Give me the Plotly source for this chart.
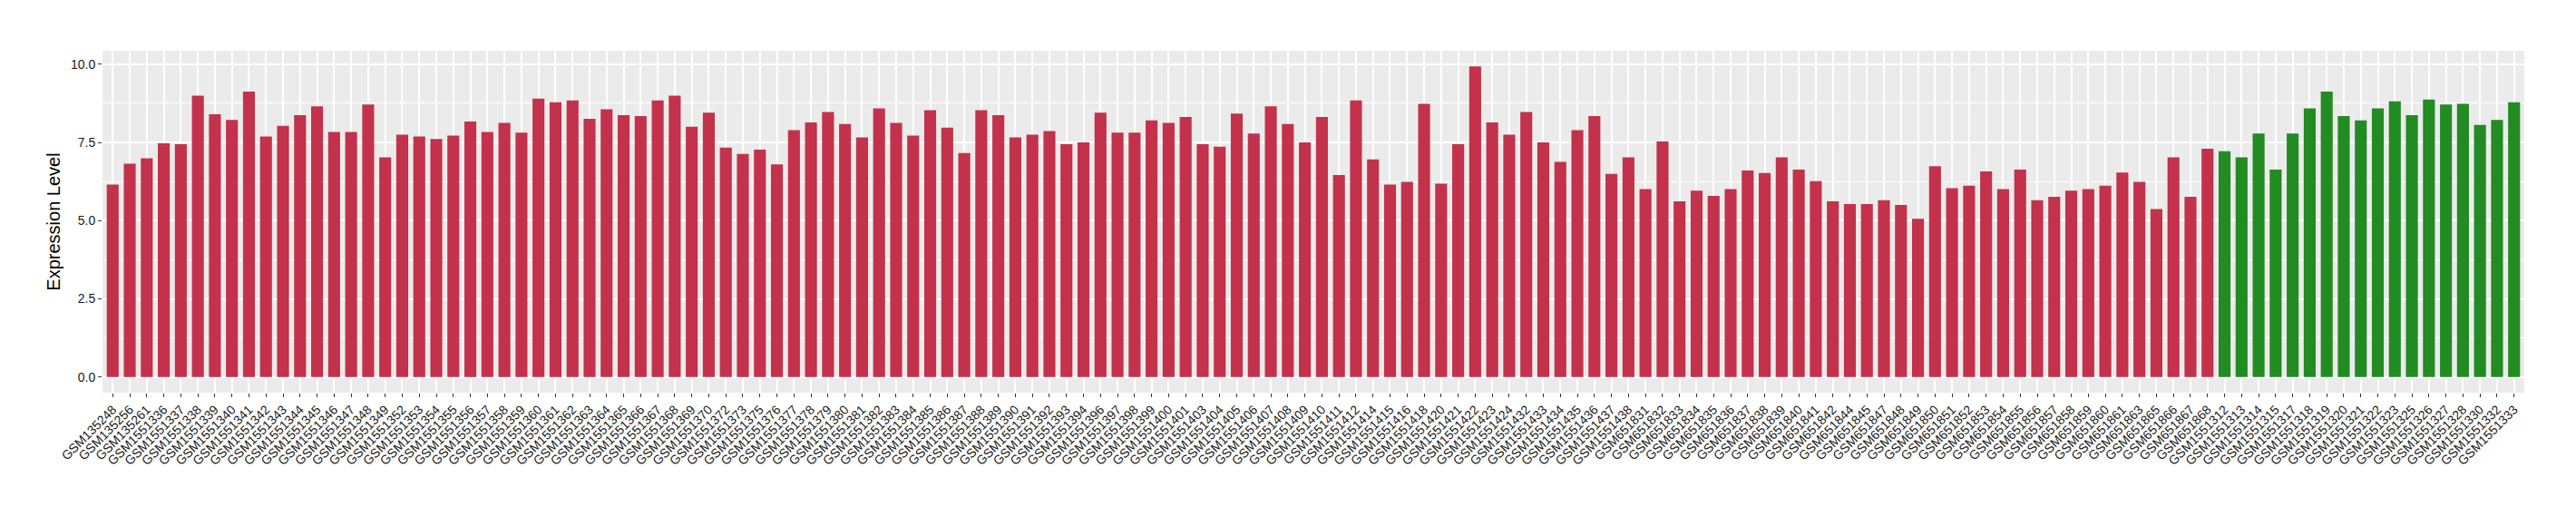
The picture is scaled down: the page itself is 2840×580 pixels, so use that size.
import plotly.graph_objects as go

red_samples = [
    "GSM135248", "GSM135256", "GSM135261",
    "GSM1551336", "GSM1551337", "GSM1551338", "GSM1551339", "GSM1551340", "GSM1551341", "GSM1551342", "GSM1551343",
    "GSM1551344", "GSM1551345", "GSM1551346", "GSM1551347", "GSM1551348", "GSM1551349",
    "GSM1551352", "GSM1551353", "GSM1551354", "GSM1551355", "GSM1551356", "GSM1551357", "GSM1551358", "GSM1551359",
    "GSM1551360", "GSM1551361", "GSM1551362", "GSM1551363", "GSM1551364", "GSM1551365", "GSM1551366", "GSM1551367",
    "GSM1551368", "GSM1551369", "GSM1551370",
    "GSM1551372", "GSM1551373",
    "GSM1551375", "GSM1551376", "GSM1551377", "GSM1551378", "GSM1551379", "GSM1551380", "GSM1551381", "GSM1551382",
    "GSM1551383", "GSM1551384", "GSM1551385", "GSM1551386", "GSM1551387", "GSM1551388", "GSM1551389", "GSM1551390",
    "GSM1551391", "GSM1551392", "GSM1551393", "GSM1551394",
    "GSM1551396", "GSM1551397", "GSM1551398", "GSM1551399", "GSM1551400", "GSM1551401",
    "GSM1551403", "GSM1551404", "GSM1551405", "GSM1551406", "GSM1551407", "GSM1551408", "GSM1551409", "GSM1551410",
    "GSM1551411", "GSM1551412",
    "GSM1551414", "GSM1551415", "GSM1551416", "GSM1551418",
    "GSM1551420", "GSM1551421", "GSM1551422", "GSM1551423", "GSM1551424",
    "GSM1551432", "GSM1551433", "GSM1551434", "GSM1551435", "GSM1551436", "GSM1551437", "GSM1551438",
    "GSM651831", "GSM651832", "GSM651833", "GSM651834", "GSM651835", "GSM651836", "GSM651837", "GSM651838",
    "GSM651839", "GSM651840", "GSM651841", "GSM651842",
    "GSM651844", "GSM651845",
    "GSM651847", "GSM651848", "GSM651849", "GSM651850", "GSM651851", "GSM651852", "GSM651853", "GSM651854",
    "GSM651855", "GSM651856", "GSM651857", "GSM651858", "GSM651859", "GSM651860", "GSM651861",
    "GSM651863",
    "GSM651865", "GSM651866", "GSM651867", "GSM651868",
]
red_values = [
    6.15, 6.82, 6.99,
    7.47, 7.44, 8.99, 8.40, 8.22, 9.12, 7.69, 8.03,
    8.37, 8.65, 7.83, 7.83, 8.71, 7.02,
    7.75, 7.69, 7.61, 7.72, 8.17, 7.83, 8.12, 7.81,
    8.90, 8.78, 8.84, 8.25, 8.56, 8.37, 8.34, 8.84,
    8.99, 8.00, 8.45,
    7.33, 7.13,
    7.27, 6.80, 7.89, 8.14, 8.47, 8.09, 7.66, 8.59,
    8.12, 7.72, 8.53, 7.97, 7.16, 8.53, 8.37, 7.66,
    7.75, 7.86, 7.44, 7.50,
    8.45, 7.81, 7.81, 8.20, 8.12, 8.31,
    7.44, 7.36, 8.42, 7.78, 8.65, 8.09, 7.50, 8.31,
    6.46, 8.84,
    6.96, 6.15, 6.24, 8.73,
    6.18, 7.44, 9.93, 8.14, 7.75,
    8.47, 7.50, 6.88, 7.89, 8.34, 6.49, 7.02,
    6.01, 7.53, 5.62, 5.96, 5.79, 6.01, 6.60, 6.52,
    7.02, 6.63, 6.26, 5.62,
    5.53, 5.53,
    5.65, 5.50, 5.06, 6.74, 6.04, 6.12, 6.57, 6.01,
    6.63, 5.65, 5.76, 5.96, 6.01, 6.12, 6.54,
    6.24,
    5.37, 7.02, 5.76, 7.30,
]
green_samples = [
    "GSM1551312", "GSM1551313", "GSM1551314", "GSM1551315",
    "GSM1551317", "GSM1551318", "GSM1551319", "GSM1551320", "GSM1551321", "GSM1551322", "GSM1551323",
    "GSM1551325", "GSM1551326", "GSM1551327", "GSM1551328",
    "GSM1551330", "GSM1551332", "GSM1551333",
]
green_values = [
    7.22, 7.02, 7.78, 6.63,
    7.78, 8.59, 9.12, 8.34, 8.20, 8.59, 8.81,
    8.37, 8.87, 8.71, 8.73,
    8.06, 8.22, 8.78,
]
y_ticks = [0, 2.5, 5, 7.5, 10]
y_tick_labels = ["0.0", "2.5", "5.0", "7.5", "10.0"]
y_title = "Expression Level"

all_samples = red_samples + green_samples
ymax = max(red_values + green_values)
pad = ymax * 0.05

fig = go.Figure()
fig.add_trace(go.Bar(x=red_samples, y=red_values, marker=dict(color="#C3324A", line=dict(width=0)),
                     showlegend=False))
fig.add_trace(go.Bar(x=green_samples, y=green_values, marker=dict(color="#228B22", line=dict(width=0)),
                     showlegend=False))

font_family = "Liberation Sans, Arial, sans-serif"
# page body has an 8px default margin; size the figure so the page fits the window exactly
fig.update_layout(
    width=2824, height=564,
    margin=dict(l=105, r=49, t=48, b=139, autoexpand=False),
    paper_bgcolor="white",
    plot_bgcolor="#EBEBEB",
    barmode="relative",
    bargap=0.3,
    font=dict(family=font_family, color="#1a1a1a"),
)
fig.update_xaxes(
    type="category",
    categoryorder="array", categoryarray=all_samples,
    range=[-0.6, len(all_samples) - 1 + 0.6],
    showgrid=True, gridcolor="white", gridwidth=1.5,
    tickangle=-45,
    ticks="outside", ticklen=4, tickcolor="#333333", tickwidth=1,
    tickfont=dict(size=14, color="#1a1a1a", family=font_family),
    zeroline=False, showline=False, automargin=False,
)
fig.update_yaxes(
    range=[-pad, ymax + pad],
    tickmode="array", tickvals=y_ticks, ticktext=y_tick_labels,
    showgrid=True, gridcolor="white", gridwidth=1.5,
    minor=dict(showgrid=True, gridcolor="white", gridwidth=0.7, tickmode="linear", tick0=1.25, dtick=2.5),
    ticks="outside", ticklen=4, tickcolor="#333333", tickwidth=1,
    tickfont=dict(size=14, color="#1a1a1a", family=font_family),
    zeroline=False, showline=False, automargin=False,
    title=dict(text=y_title, font=dict(size=20, color="black", family=font_family), standoff=5),
)

fig.write_html("out.html")
